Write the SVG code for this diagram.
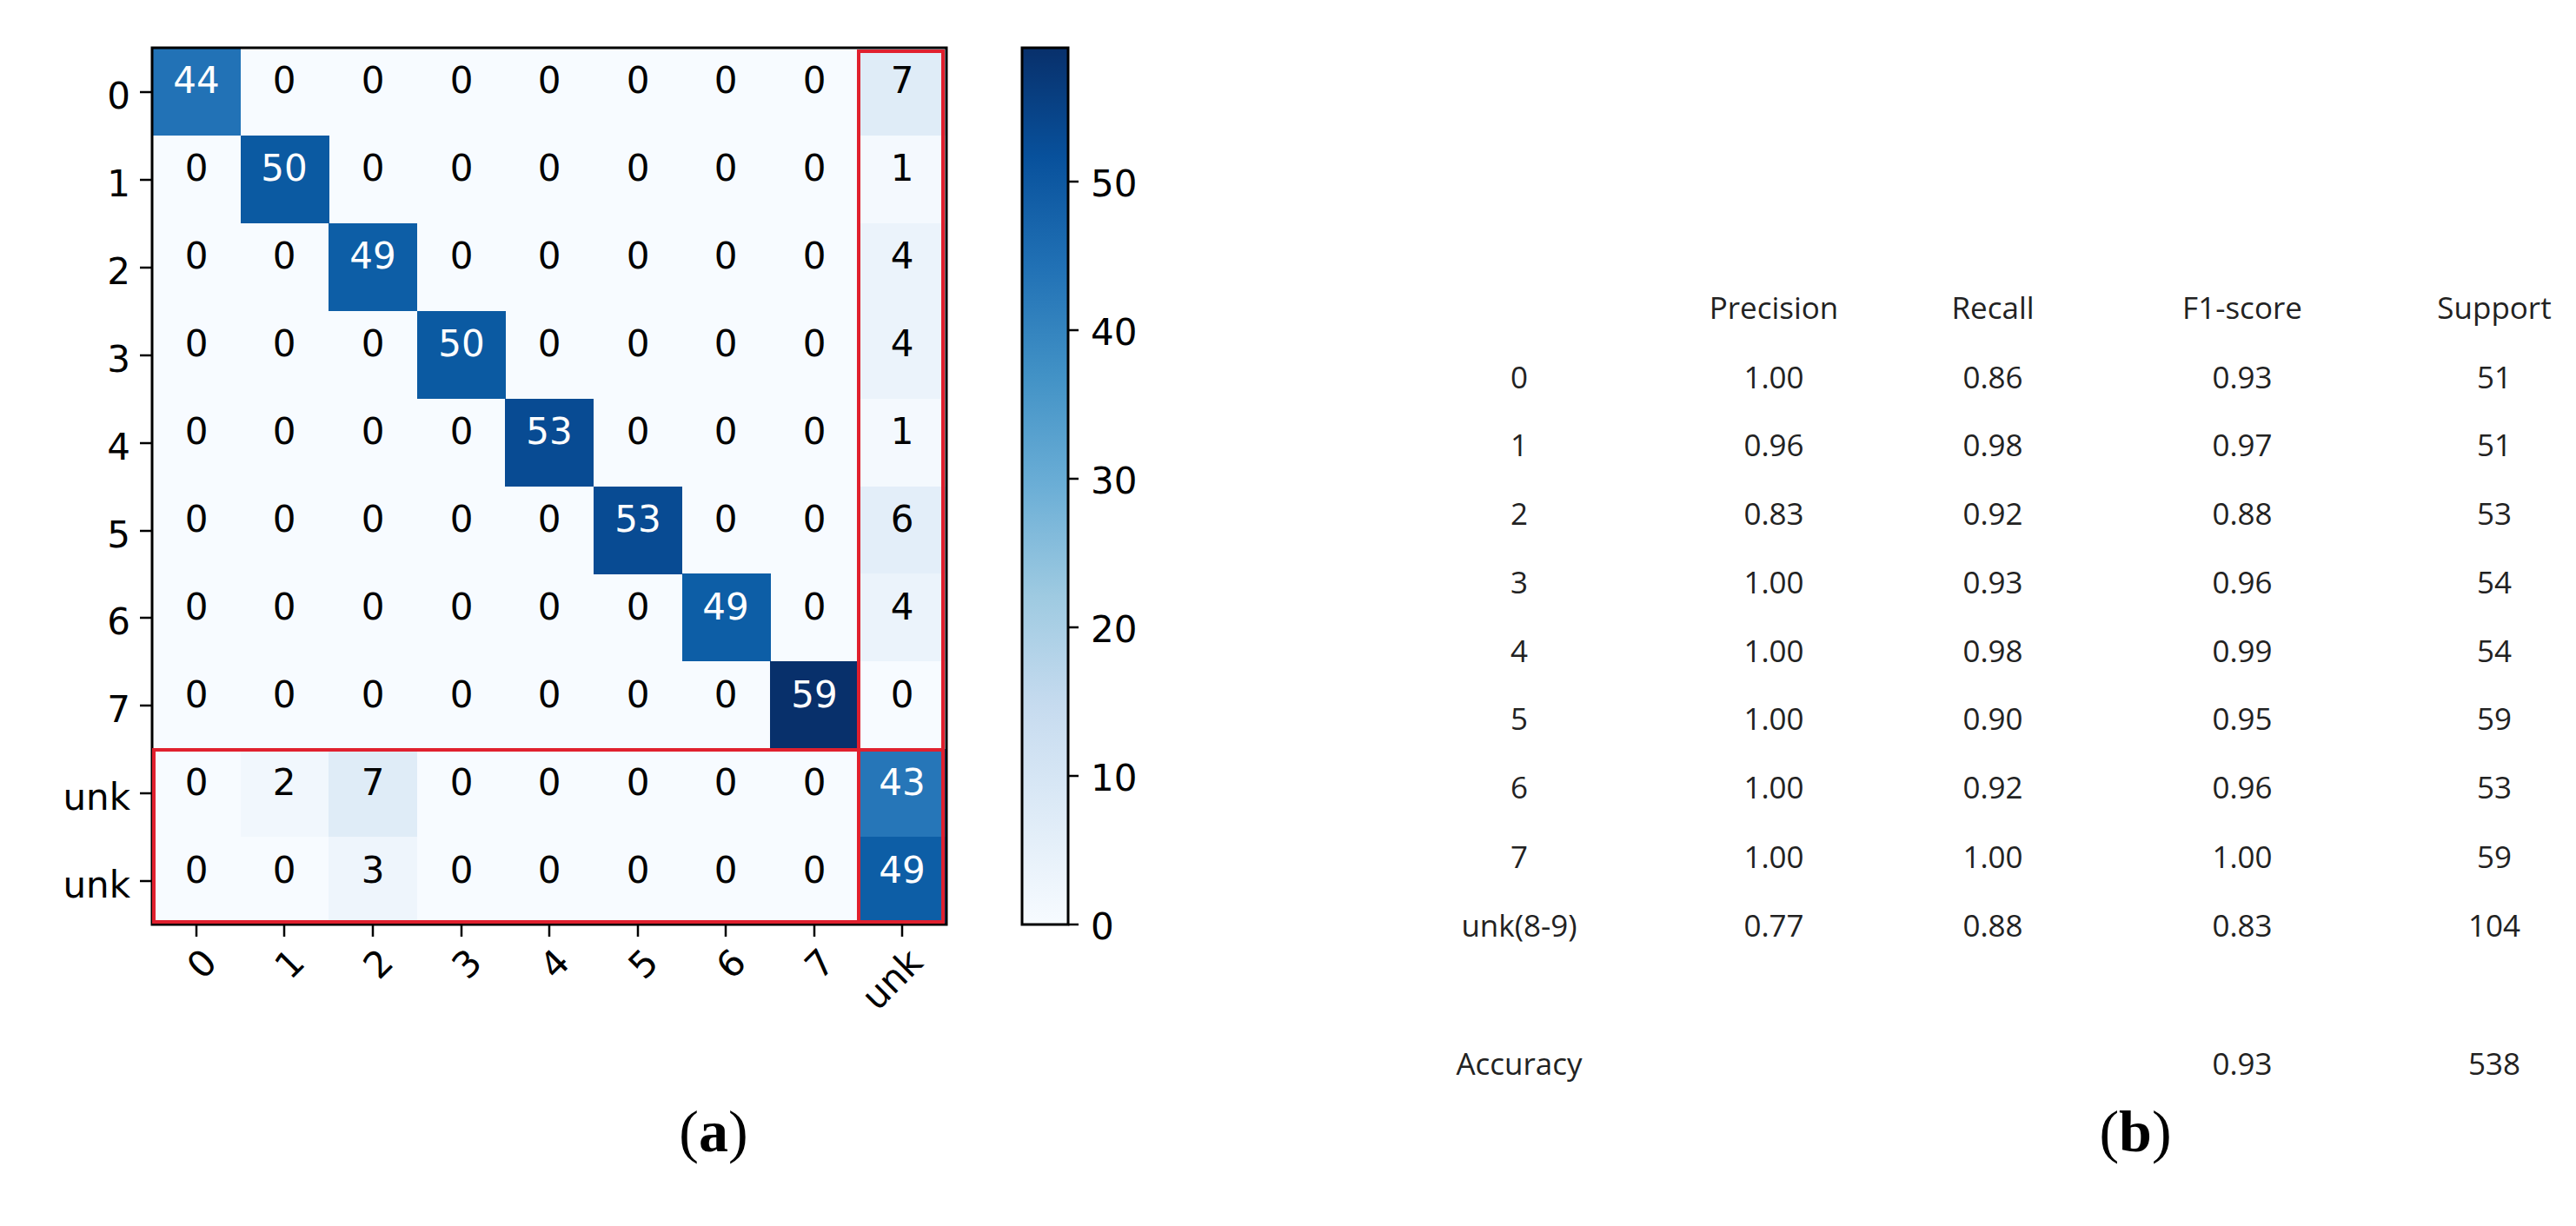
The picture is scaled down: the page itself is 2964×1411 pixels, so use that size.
<svg xmlns="http://www.w3.org/2000/svg" width="2964" height="1411" viewBox="0 0 2964 1411">
<style>
.c{font-family:"DejaVu Sans",sans-serif;font-size:42px;text-anchor:middle;dominant-baseline:central}
.w{fill:#fff}
.ax{font-family:"DejaVu Sans",sans-serif;font-size:42px;fill:#000}
.t{font-family:"Open Sans","Liberation Sans",sans-serif;font-size:35px;text-anchor:middle;dominant-baseline:central;fill:#222}
.cap{font-family:"Liberation Serif",serif;font-size:68px;text-anchor:middle}
</style>
<defs>
<linearGradient id="blues" x1="0" y1="1" x2="0" y2="0">
<stop offset="0" stop-color="#f7fbff"/><stop offset="0.125" stop-color="#deebf7"/><stop offset="0.25" stop-color="#c6dbef"/><stop offset="0.375" stop-color="#9ecae1"/><stop offset="0.5" stop-color="#6baed6"/><stop offset="0.625" stop-color="#4292c6"/><stop offset="0.75" stop-color="#2171b5"/><stop offset="0.875" stop-color="#08519c"/><stop offset="1" stop-color="#08306b"/>
</linearGradient>
</defs>
<rect width="2964" height="1411" fill="#fff"/>
<g id="matrix">
<rect x="175" y="55" width="914" height="1009" fill="#f7fbff"/>
<rect x="175" y="55" width="102" height="101" fill="#2272b6"/>
<rect x="277" y="156" width="102" height="101" fill="#0b5aa2"/>
<rect x="378" y="257" width="102" height="101" fill="#0d5ea6"/>
<rect x="480" y="358" width="102" height="101" fill="#0b5aa2"/>
<rect x="581" y="459" width="102" height="101" fill="#084b93"/>
<rect x="683" y="560" width="102" height="101" fill="#084b93"/>
<rect x="785" y="660" width="102" height="101" fill="#0d5ea6"/>
<rect x="886" y="761" width="102" height="101" fill="#08306b"/>
<rect x="988" y="55" width="101" height="101" fill="#dfecf7"/>
<rect x="988" y="156" width="101" height="101" fill="#f4f9fe"/>
<rect x="988" y="257" width="101" height="101" fill="#ebf3fb"/>
<rect x="988" y="358" width="101" height="101" fill="#ebf3fb"/>
<rect x="988" y="459" width="101" height="101" fill="#f4f9fe"/>
<rect x="988" y="560" width="101" height="101" fill="#e3eef9"/>
<rect x="988" y="660" width="101" height="101" fill="#ebf3fb"/>
<rect x="988" y="862" width="101" height="101" fill="#2676b8"/>
<rect x="988" y="963" width="101" height="101" fill="#0d5ea6"/>
<rect x="277" y="862" width="102" height="101" fill="#f1f7fd"/>
<rect x="378" y="862" width="102" height="101" fill="#dfecf7"/>
<rect x="378" y="963" width="102" height="101" fill="#eef5fc"/>
<rect x="175" y="55" width="914" height="1009" fill="none" stroke="#000" stroke-width="3"/>
</g>
<g id="cells" class="c">
<text x="226" y="92" class="c w">44</text><text x="327" y="92" class="c">0</text><text x="429" y="92" class="c">0</text><text x="531" y="92" class="c">0</text><text x="632" y="92" class="c">0</text><text x="734" y="92" class="c">0</text><text x="835" y="92" class="c">0</text><text x="937" y="92" class="c">0</text><text x="1038" y="92" class="c">7</text>
<text x="226" y="193" class="c">0</text><text x="327" y="193" class="c w">50</text><text x="429" y="193" class="c">0</text><text x="531" y="193" class="c">0</text><text x="632" y="193" class="c">0</text><text x="734" y="193" class="c">0</text><text x="835" y="193" class="c">0</text><text x="937" y="193" class="c">0</text><text x="1038" y="193" class="c">1</text>
<text x="226" y="294" class="c">0</text><text x="327" y="294" class="c">0</text><text x="429" y="294" class="c w">49</text><text x="531" y="294" class="c">0</text><text x="632" y="294" class="c">0</text><text x="734" y="294" class="c">0</text><text x="835" y="294" class="c">0</text><text x="937" y="294" class="c">0</text><text x="1038" y="294" class="c">4</text>
<text x="226" y="395" class="c">0</text><text x="327" y="395" class="c">0</text><text x="429" y="395" class="c">0</text><text x="531" y="395" class="c w">50</text><text x="632" y="395" class="c">0</text><text x="734" y="395" class="c">0</text><text x="835" y="395" class="c">0</text><text x="937" y="395" class="c">0</text><text x="1038" y="395" class="c">4</text>
<text x="226" y="496" class="c">0</text><text x="327" y="496" class="c">0</text><text x="429" y="496" class="c">0</text><text x="531" y="496" class="c">0</text><text x="632" y="496" class="c w">53</text><text x="734" y="496" class="c">0</text><text x="835" y="496" class="c">0</text><text x="937" y="496" class="c">0</text><text x="1038" y="496" class="c">1</text>
<text x="226" y="597" class="c">0</text><text x="327" y="597" class="c">0</text><text x="429" y="597" class="c">0</text><text x="531" y="597" class="c">0</text><text x="632" y="597" class="c">0</text><text x="734" y="597" class="c w">53</text><text x="835" y="597" class="c">0</text><text x="937" y="597" class="c">0</text><text x="1038" y="597" class="c">6</text>
<text x="226" y="698" class="c">0</text><text x="327" y="698" class="c">0</text><text x="429" y="698" class="c">0</text><text x="531" y="698" class="c">0</text><text x="632" y="698" class="c">0</text><text x="734" y="698" class="c">0</text><text x="835" y="698" class="c w">49</text><text x="937" y="698" class="c">0</text><text x="1038" y="698" class="c">4</text>
<text x="226" y="799" class="c">0</text><text x="327" y="799" class="c">0</text><text x="429" y="799" class="c">0</text><text x="531" y="799" class="c">0</text><text x="632" y="799" class="c">0</text><text x="734" y="799" class="c">0</text><text x="835" y="799" class="c">0</text><text x="937" y="799" class="c w">59</text><text x="1038" y="799" class="c">0</text>
<text x="226" y="900" class="c">0</text><text x="327" y="900" class="c">2</text><text x="429" y="900" class="c">7</text><text x="531" y="900" class="c">0</text><text x="632" y="900" class="c">0</text><text x="734" y="900" class="c">0</text><text x="835" y="900" class="c">0</text><text x="937" y="900" class="c">0</text><text x="1038" y="900" class="c w">43</text>
<text x="226" y="1001" class="c">0</text><text x="327" y="1001" class="c">0</text><text x="429" y="1001" class="c">3</text><text x="531" y="1001" class="c">0</text><text x="632" y="1001" class="c">0</text><text x="734" y="1001" class="c">0</text><text x="835" y="1001" class="c">0</text><text x="937" y="1001" class="c">0</text><text x="1038" y="1001" class="c w">49</text>
</g>
<g id="highlight" fill="none" stroke="#e0202e" stroke-width="4">
<rect x="988" y="59" width="97" height="1002"/>
<rect x="177" y="863" width="908" height="198"/>
</g>
<g id="axes" stroke="#000" stroke-width="2.5">
<path d="M161 106H175M161 207H175M161 308H175M161 409H175M161 510H175M161 611H175M161 711H175M161 812H175M161 913H175M161 1014H175"/>
<path d="M226 1064v14M327 1064v14M429 1064v14M531 1064v14M632 1064v14M734 1064v14M835 1064v14M937 1064v14M1038 1064v14"/>
</g>
<g id="rowlabels" class="ax" text-anchor="end" dominant-baseline="central">
<text x="150" y="110">0</text><text x="150" y="211">1</text><text x="150" y="312">2</text><text x="150" y="413">3</text><text x="150" y="514">4</text><text x="150" y="615">5</text><text x="150" y="715">6</text><text x="150" y="816">7</text><text x="150" y="917">unk</text><text x="150" y="1018">unk</text>
</g>
<g id="collabels" class="ax" text-anchor="end">
<text transform="translate(252,1110) rotate(-45)">0</text>
<text transform="translate(353,1110) rotate(-45)">1</text>
<text transform="translate(455,1110) rotate(-45)">2</text>
<text transform="translate(557,1110) rotate(-45)">3</text>
<text transform="translate(658,1110) rotate(-45)">4</text>
<text transform="translate(760,1110) rotate(-45)">5</text>
<text transform="translate(861,1110) rotate(-45)">6</text>
<text transform="translate(963,1110) rotate(-45)">7</text>
<text transform="translate(1064,1110) rotate(-45)">unk</text>
</g>
<g id="colorbar">
<rect x="1176" y="55" width="53" height="1009" fill="url(#blues)" stroke="#000" stroke-width="3"/>
<path d="M1229 1064h12M1229 893h12M1229 722h12M1229 551h12M1229 380h12M1229 209h12" stroke="#000" stroke-width="2.5"/>
<g class="ax" dominant-baseline="central">
<text x="1255" y="1066">0</text><text x="1255" y="895">10</text><text x="1255" y="724">20</text><text x="1255" y="553">30</text><text x="1255" y="382">40</text><text x="1255" y="211">50</text>
</g>
</g>
<text x="821" y="1325" class="cap">(<tspan font-weight="bold">a</tspan>)</text>
<g id="table" class="t">
<text x="2041" y="353">Precision</text><text x="2293" y="353">Recall</text><text x="2580" y="353">F1-score</text><text x="2870" y="353">Support</text>
<text x="1748" y="433">0</text><text x="2041" y="433">1.00</text><text x="2293" y="433">0.86</text><text x="2580" y="433">0.93</text><text x="2870" y="433">51</text>
<text x="1748" y="511">1</text><text x="2041" y="511">0.96</text><text x="2293" y="511">0.98</text><text x="2580" y="511">0.97</text><text x="2870" y="511">51</text>
<text x="1748" y="590">2</text><text x="2041" y="590">0.83</text><text x="2293" y="590">0.92</text><text x="2580" y="590">0.88</text><text x="2870" y="590">53</text>
<text x="1748" y="669">3</text><text x="2041" y="669">1.00</text><text x="2293" y="669">0.93</text><text x="2580" y="669">0.96</text><text x="2870" y="669">54</text>
<text x="1748" y="748">4</text><text x="2041" y="748">1.00</text><text x="2293" y="748">0.98</text><text x="2580" y="748">0.99</text><text x="2870" y="748">54</text>
<text x="1748" y="826">5</text><text x="2041" y="826">1.00</text><text x="2293" y="826">0.90</text><text x="2580" y="826">0.95</text><text x="2870" y="826">59</text>
<text x="1748" y="905">6</text><text x="2041" y="905">1.00</text><text x="2293" y="905">0.92</text><text x="2580" y="905">0.96</text><text x="2870" y="905">53</text>
<text x="1748" y="985">7</text><text x="2041" y="985">1.00</text><text x="2293" y="985">1.00</text><text x="2580" y="985">1.00</text><text x="2870" y="985">59</text>
<text x="1748" y="1064">unk(8-9)</text><text x="2041" y="1064">0.77</text><text x="2293" y="1064">0.88</text><text x="2580" y="1064">0.83</text><text x="2870" y="1064">104</text>
<text x="1748" y="1223">Accuracy</text><text x="2580" y="1223">0.93</text><text x="2870" y="1223">538</text>
</g>
<text x="2457" y="1325" class="cap">(<tspan font-weight="bold">b</tspan>)</text>
</svg>
